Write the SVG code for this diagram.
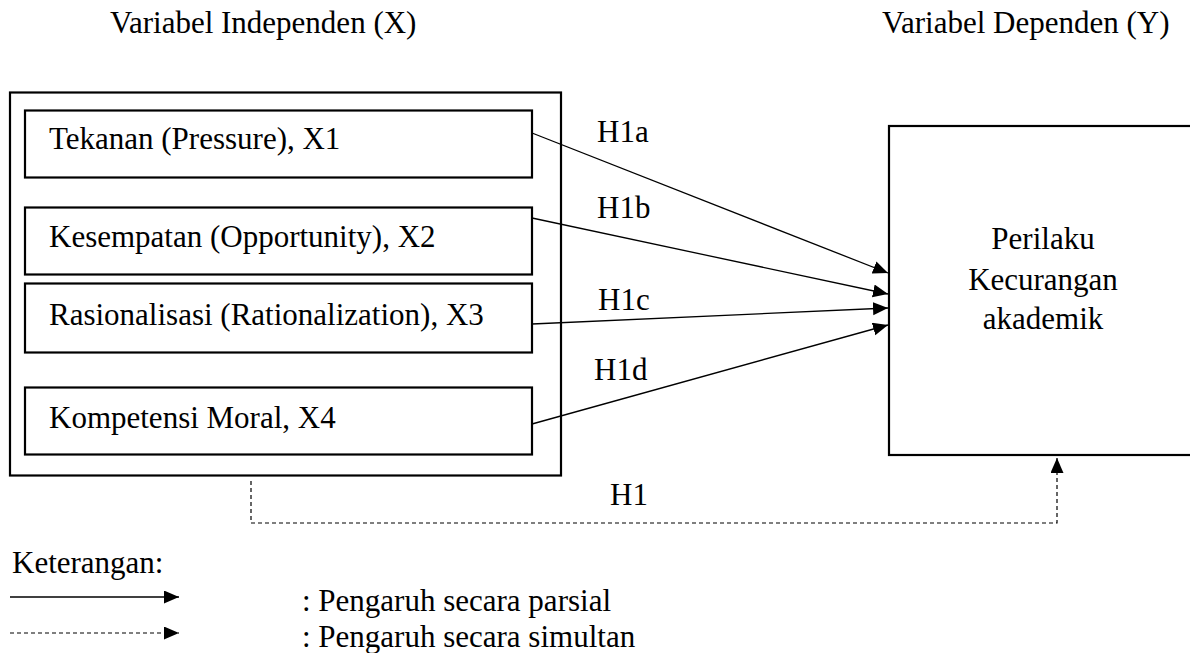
<svg xmlns="http://www.w3.org/2000/svg" width="1190" height="653" viewBox="0 0 1190 653">
<style>
text{font-family:"Liberation Serif","Times New Roman",serif;font-size:31px;fill:#000}
.box{fill:none;stroke:#000;stroke-width:2.2}
.ln{fill:none;stroke:#000;stroke-width:1.3}
.dash{fill:none;stroke:#000;stroke-width:1.2;stroke-dasharray:4 3}
</style>
<defs>
<marker id="ah" markerUnits="userSpaceOnUse" markerWidth="16" markerHeight="14" refX="15" refY="6.5" orient="auto">
<path d="M0,0 L15,6.5 L0,13 z" fill="#000"/>
</marker>
</defs>
<text x="110" y="33">Variabel Independen (X)</text>
<text x="882" y="33">Variabel Dependen (Y)</text>
<g id="outer"><rect class="box" x="10" y="92.5" width="551" height="383"/></g>
<g id="x1"><rect class="box" x="25" y="110.5" width="507" height="67"/><text x="49" y="149">Tekanan (Pressure), X1</text></g>
<g id="x2"><rect class="box" x="25" y="207.5" width="507" height="67"/><text x="49" y="247">Kesempatan (Opportunity), X2</text></g>
<g id="x3"><rect class="box" x="25" y="283.5" width="507" height="69"/><text x="49" y="325">Rasionalisasi (Rationalization), X3</text></g>
<g id="x4"><rect class="box" x="25" y="387.5" width="507" height="67"/><text x="49" y="428">Kompetensi Moral, X4</text></g>
<g id="y"><rect class="box" x="889" y="126" width="310" height="329"/>
<text x="1043" y="249" text-anchor="middle">Perilaku</text>
<text x="1043" y="290" text-anchor="middle">Kecurangan</text>
<text x="1043" y="329" text-anchor="middle">akademik</text></g>
<g id="connectors">
<line class="ln" x1="532" y1="133" x2="888" y2="273" marker-end="url(#ah)"/>
<line class="ln" x1="532" y1="218" x2="888" y2="294" marker-end="url(#ah)"/>
<line class="ln" x1="532" y1="324" x2="888" y2="308" marker-end="url(#ah)"/>
<line class="ln" x1="532" y1="424" x2="888" y2="325" marker-end="url(#ah)"/>
<polyline class="dash" points="251,481 251,523 1057,523 1057,458" marker-end="url(#ah)"/>
<text x="597" y="142">H1a</text>
<text x="597" y="218">H1b</text>
<text x="598" y="310">H1c</text>
<text x="594" y="380">H1d</text>
<text x="610" y="505">H1</text>
</g>
<g id="legend">
<text x="12" y="573">Keterangan:</text>
<line class="ln" x1="10" y1="597" x2="179" y2="597" marker-end="url(#ah)"/>
<line class="dash" x1="10" y1="633" x2="179" y2="633" marker-end="url(#ah)"/>
<text x="302" y="611">: Pengaruh secara parsial</text>
<text x="302" y="647">: Pengaruh secara simultan</text>
</g>
</svg>
